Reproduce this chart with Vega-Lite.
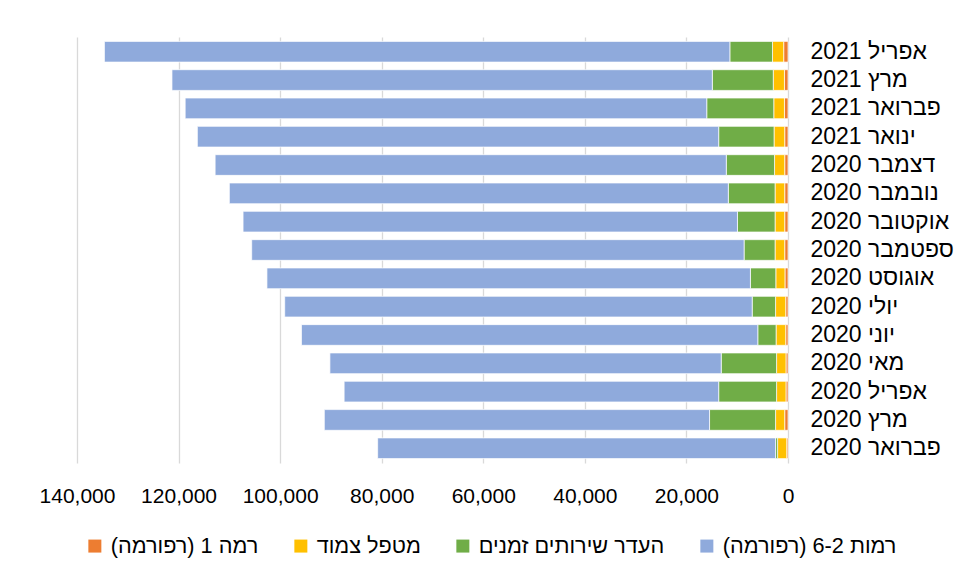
{
  "$schema": "https://vega.github.io/schema/vega-lite/v6.json",
  "autosize": {"type": "none"},
  "padding": {"left": 77, "top": 37, "right": 172, "bottom": 115},
  "width": 711,
  "height": 426,
  "background": "white",
  "config": {
    "view": {"stroke": null},
    "font": "Liberation Sans"
  },
  "data": {
    "values": [
      {"month": "אפריל 2021", "l1": 850, "aide": 2200, "none": 8400, "l26": 123150},
      {"month": "מרץ 2021", "l1": 700, "aide": 2200, "none": 12000, "l26": 106400},
      {"month": "פברואר 2021", "l1": 700, "aide": 2100, "none": 13200, "l26": 102700},
      {"month": "ינואר 2021", "l1": 650, "aide": 2100, "none": 10900, "l26": 102650},
      {"month": "דצמבר 2020", "l1": 650, "aide": 2000, "none": 9500, "l26": 100650},
      {"month": "נובמבר 2020", "l1": 650, "aide": 1900, "none": 9200, "l26": 98250},
      {"month": "אוקטובר 2020", "l1": 650, "aide": 1900, "none": 7400, "l26": 97350},
      {"month": "ספטמבר 2020", "l1": 650, "aide": 1900, "none": 6100, "l26": 96950},
      {"month": "אוגוסט 2020", "l1": 600, "aide": 1800, "none": 5000, "l26": 95200},
      {"month": "יולי 2020", "l1": 450, "aide": 2000, "none": 4600, "l26": 92050},
      {"month": "יוני 2020", "l1": 450, "aide": 1900, "none": 3600, "l26": 89850},
      {"month": "מאי 2020", "l1": 400, "aide": 1850, "none": 10900, "l26": 77050},
      {"month": "אפריל 2020", "l1": 400, "aide": 1850, "none": 11400, "l26": 73750},
      {"month": "מרץ 2020", "l1": 650, "aide": 1800, "none": 13000, "l26": 75850},
      {"month": "פברואר 2020", "l1": 250, "aide": 1800, "none": 400, "l26": 78350}
    ]
  },
  "transform": [
    {"fold": ["l1", "aide", "none", "l26"], "as": ["series", "value"]},
    {"calculate": "indexof(['l1','aide','none','l26'], datum.series)", "as": "k"}
  ],
  "mark": {"type": "bar", "stroke": "white", "strokeWidth": 0.7},
  "encoding": {
    "y": {
      "field": "month",
      "type": "nominal",
      "sort": null,
      "scale": {"paddingInner": 0.27, "paddingOuter": 0.155},
      "axis": {
        "orient": "right",
        "title": null,
        "domain": false,
        "ticks": false,
        "labelPadding": 22,
        "labelFontSize": 23,
        "labelColor": "#000000",
        "labelFont": "Liberation Sans"
      }
    },
    "x": {
      "field": "value",
      "type": "quantitative",
      "stack": "zero",
      "scale": {"domain": [0, 140000], "reverse": true, "nice": false},
      "axis": {
        "title": null,
        "values": [0, 20000, 40000, 60000, 80000, 100000, 120000, 140000],
        "format": ",.0f",
        "domain": false,
        "ticks": false,
        "grid": true,
        "gridColor": "#d9d9d9",
        "gridWidth": 1.3,
        "labelPadding": 22,
        "labelFontSize": 21,
        "labelColor": "#000000",
        "labelFont": "Liberation Sans",
        "labelOverlap": false,
        "labelFlush": false
      }
    },
    "order": {"field": "k", "type": "quantitative", "sort": "ascending"},
    "color": {
      "field": "series",
      "type": "nominal",
      "scale": {
        "domain": ["l1", "aide", "none", "l26"],
        "range": ["#ED7D31", "#FFC000", "#70AD47", "#8FAADC"]
      },
      "legend": {
        "title": null,
        "orient": "none",
        "direction": "horizontal",
        "legendX": 7,
        "legendY": 498,
        "padding": 0,
        "symbolType": "square",
        "symbolSize": 169,
        "symbolStrokeWidth": 0,
        "labelOffset": 5,
        "columnPadding": 31,
        "labelFontSize": 21.7,
        "labelColor": "#000000",
        "labelFont": "Liberation Sans",
        "labelLimit": 400,
        "labelExpr": "{'l1': 'רמה 1 (רפורמה)\u200F', 'aide': 'מטפל צמוד', 'none': 'העדר שירותים זמנים', 'l26': 'רמות 6-2 (רפורמה)\u200F'}[datum.value]"
      }
    }
  }
}
